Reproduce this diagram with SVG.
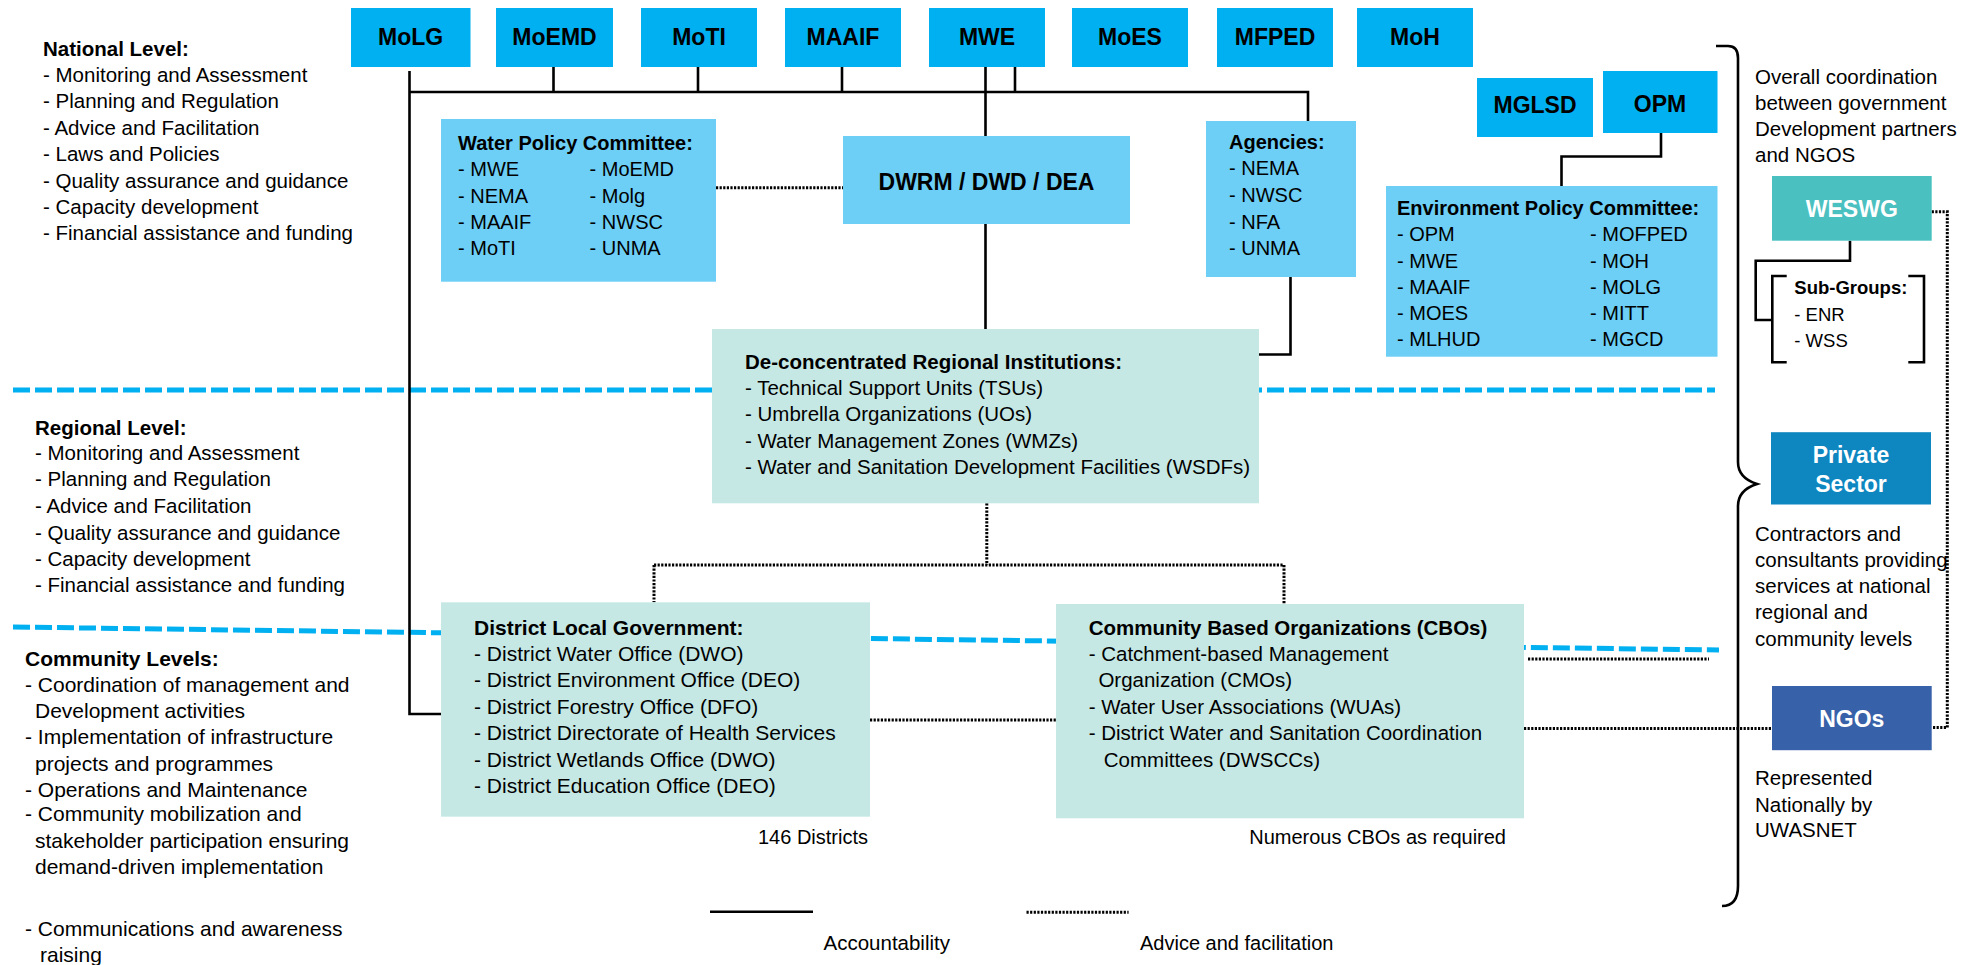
<svg xmlns="http://www.w3.org/2000/svg" width="1969" height="965" viewBox="0 0 1969 965">
<style>
text{font-family:"Liberation Sans",Arial,sans-serif;font-size:20.5px;fill:#000}
.b{font-weight:bold}
.m{font-size:23px;font-weight:bold;text-anchor:middle}
.w{fill:#fff}
.r{text-anchor:end}
.min{fill:#00B0F0}
.lb{fill:#6DCFF6}
.pt{fill:#C6E8E5}
.sol{stroke:#000;stroke-width:2.6;fill:none}
.dot{stroke:#000;stroke-width:3;stroke-dasharray:2.2 1.4;fill:none}
.dash{stroke:#00B0F0;stroke-width:5;stroke-dasharray:17 5;fill:none}
</style>
<rect width="1969" height="965" fill="#fff"/>

<g id="level-lines">
<line class="dash" x1="13" y1="390" x2="1715" y2="390"/>
<line class="dash" x1="13" y1="627" x2="1719" y2="650"/>
</g>

<g id="connectors">
<path class="sol" d="M409.5,71 V714 H441"/>
<path class="sol" d="M409.5,92 H1308 V121"/>
<path class="sol" d="M553.5,67 V92 M698,67 V92 M842,67 V92 M1015,67 V92"/>
<path class="sol" d="M985.5,67 V136 M985.5,224 V329"/>
<path class="sol" d="M1290.5,277 V354.5 H1259"/>
<path class="sol" d="M1661,133 V156.5 H1561.5 V186"/>
<path class="sol" d="M1850,240.7 V260.7 H1755.7 V320 H1772.3"/>
<path class="sol" d="M1786.7,276 H1772.3 V362.3 H1786.7 M1908.3,276 H1924 V362.3 H1908.3"/>
<path class="sol" stroke-width="3" d="M1716,46 H1728 Q1738,46 1738,58 V462 Q1738,478 1757,484 Q1738,490 1738,506 V886 Q1738,906 1722,906"/>
<path class="dot" d="M716,187.7 H843"/>
<path class="dot" d="M986.8,503.3 V565 M654,565 H1284 M654,565 V602.3 M1284,565 V604"/>
<path class="dot" d="M870,720 H1056"/>
<path class="dot" d="M1524,728.5 H1772"/>
<path class="dot" d="M1528,659 H1709"/>
<path class="dot" d="M1931.7,211.7 H1947.3 V727.6 H1931.7"/>
</g>

<g id="national-text">
<text class="b" x="43" y="56.3">National Level:</text>
<text x="43" y="82">- Monitoring and Assessment</text>
<text x="43" y="108">- Planning and Regulation</text>
<text x="43" y="134.7">- Advice and Facilitation</text>
<text x="43" y="161">- Laws and Policies</text>
<text x="43" y="188">- Quality assurance and guidance</text>
<text x="43" y="214.3">- Capacity development</text>
<text x="43" y="240.3">- Financial assistance and funding</text>
</g>

<g id="regional-text">
<text class="b" x="35" y="434.5">Regional Level:</text>
<text x="35" y="459.5">- Monitoring and Assessment</text>
<text x="35" y="486">- Planning and Regulation</text>
<text x="35" y="512.5">- Advice and Facilitation</text>
<text x="35" y="539.5">- Quality assurance and guidance</text>
<text x="35" y="566">- Capacity development</text>
<text x="35" y="592">- Financial assistance and funding</text>
</g>

<g id="community-text">
<text class="b" x="25" y="665.8" style="font-size:21px">Community Levels:</text>
<text x="25" y="691.5" style="font-size:21px">- Coordination of management and</text>
<text x="35" y="717.5" style="font-size:21px">Development activities</text>
<text x="25" y="744" style="font-size:21px">- Implementation of infrastructure</text>
<text x="35" y="771" style="font-size:21px">projects and programmes</text>
<text x="25" y="796.5" style="font-size:21px">- Operations and Maintenance</text>
<text x="25" y="821" style="font-size:21px">- Community mobilization and</text>
<text x="35" y="847.5" style="font-size:21px">stakeholder participation ensuring</text>
<text x="35" y="874" style="font-size:21px">demand-driven implementation</text>
<text x="25" y="936" style="font-size:21px">- Communications and awareness</text>
<text x="40" y="961.5" style="font-size:21px">raising</text>
</g>

<g id="MoLG"><rect class="min" x="351" y="8" width="119.5" height="59"/><text class="m" x="410.7" y="45">MoLG</text></g>
<g id="MoEMD"><rect class="min" x="496" y="8" width="117" height="59"/><text class="m" x="554.5" y="45">MoEMD</text></g>
<g id="MoTI"><rect class="min" x="641" y="8" width="116" height="59"/><text class="m" x="699" y="45">MoTI</text></g>
<g id="MAAIF"><rect class="min" x="785" y="8" width="116" height="59"/><text class="m" x="843" y="45">MAAIF</text></g>
<g id="MWE"><rect class="min" x="929" y="8" width="116" height="59"/><text class="m" x="987" y="45">MWE</text></g>
<g id="MoES"><rect class="min" x="1072" y="8" width="116" height="59"/><text class="m" x="1130" y="45">MoES</text></g>
<g id="MFPED"><rect class="min" x="1217" y="8" width="116" height="59"/><text class="m" x="1275" y="45">MFPED</text></g>
<g id="MoH"><rect class="min" x="1357" y="8" width="116" height="59"/><text class="m" x="1415" y="45">MoH</text></g>
<g id="MGLSD"><rect class="min" x="1477" y="78" width="116" height="59"/><text class="m" x="1535" y="113">MGLSD</text></g>
<g id="OPM"><rect class="min" x="1603" y="71" width="114.5" height="62"/><text class="m" x="1660" y="111.5">OPM</text></g>

<g id="water-policy-committee">
<rect class="lb" x="441" y="119" width="275" height="162.7"/>
<text class="b" x="458" y="149.7" style="font-size:20px">Water Policy Committee:</text>
<text x="458" y="176.3" style="font-size:20px">- MWE</text>
<text x="458" y="202.7" style="font-size:20px">- NEMA</text>
<text x="458" y="229.3" style="font-size:20px">- MAAIF</text>
<text x="458" y="255.3" style="font-size:20px">- MoTI</text>
<text x="589.6" y="176.3" style="font-size:20px">- MoEMD</text>
<text x="589.6" y="202.7" style="font-size:20px">- Molg</text>
<text x="589.6" y="229.3" style="font-size:20px">- NWSC</text>
<text x="589.6" y="255.3" style="font-size:20px">- UNMA</text>
</g>

<g id="DWRM">
<rect class="lb" x="843" y="136" width="287" height="88"/>
<text class="m" x="986.5" y="189.6">DWRM / DWD / DEA</text>
</g>

<g id="agencies">
<rect class="lb" x="1206" y="121" width="150" height="156"/>
<text class="b" x="1229" y="148.7" style="font-size:20px">Agencies:</text>
<text x="1229" y="175.3" style="font-size:20px">- NEMA</text>
<text x="1229" y="202" style="font-size:20px">- NWSC</text>
<text x="1229" y="228.7" style="font-size:20px">- NFA</text>
<text x="1229" y="254.7" style="font-size:20px">- UNMA</text>
</g>

<g id="environment-policy-committee">
<rect class="lb" x="1386" y="186" width="331.5" height="170.7"/>
<text class="b" x="1397" y="215.3" style="font-size:20px">Environment Policy Committee:</text>
<text x="1397" y="241" style="font-size:20px">- OPM</text>
<text x="1397" y="267.7" style="font-size:20px">- MWE</text>
<text x="1397" y="293.7" style="font-size:20px">- MAAIF</text>
<text x="1397" y="319.7" style="font-size:20px">- MOES</text>
<text x="1397" y="346.3" style="font-size:20px">- MLHUD</text>
<text x="1590" y="241" style="font-size:20px">- MOFPED</text>
<text x="1590" y="267.7" style="font-size:20px">- MOH</text>
<text x="1590" y="293.7" style="font-size:20px">- MOLG</text>
<text x="1590" y="319.7" style="font-size:20px">- MITT</text>
<text x="1590" y="346.3" style="font-size:20px">- MGCD</text>
</g>

<g id="regional-institutions">
<rect class="pt" x="712" y="329" width="547" height="174.3"/>
<text class="b" x="745" y="368.7">De-concentrated Regional Institutions:</text>
<text x="745" y="394.7">- Technical Support Units (TSUs)</text>
<text x="745" y="421.3">- Umbrella Organizations (UOs)</text>
<text x="745" y="447.7">- Water Management Zones (WMZs)</text>
<text x="745" y="473.7">- Water and Sanitation Development Facilities (WSDFs)</text>
</g>

<g id="district-local-government">
<rect class="pt" x="441" y="602.3" width="429" height="214.4"/>
<text class="b" x="474" y="634.5" style="font-size:21px">District Local Government:</text>
<text x="474" y="660.5" style="font-size:21px">- District Water Office (DWO)</text>
<text x="474" y="687" style="font-size:21px">- District Environment Office (DEO)</text>
<text x="474" y="713.7" style="font-size:21px">- District Forestry Office (DFO)</text>
<text x="474" y="740.3" style="font-size:21px">- District Directorate of Health Services</text>
<text x="474" y="767" style="font-size:21px">- District Wetlands Office (DWO)</text>
<text x="474" y="793" style="font-size:21px">- District Education Office (DEO)</text>
<text class="r" x="868" y="843.7" style="font-size:20px">146 Districts</text>
</g>

<g id="cbos">
<rect class="pt" x="1056" y="604" width="468" height="214.3"/>
<text class="b" x="1088.7" y="635.3">Community Based Organizations (CBOs)</text>
<text x="1088.7" y="661">- Catchment-based Management</text>
<text x="1098.4" y="687">Organization (CMOs)</text>
<text x="1088.7" y="713.7">- Water User Associations (WUAs)</text>
<text x="1088.7" y="740.3">- District Water and Sanitation Coordination</text>
<text x="1103.8" y="767">Committees (DWSCCs)</text>
<text class="r" x="1506" y="843.7" style="font-size:20px">Numerous CBOs as required</text>
</g>

<g id="coordination-text">
<text x="1755" y="83.7">Overall coordination</text>
<text x="1755" y="109.7">between government</text>
<text x="1755" y="136.3">Development partners</text>
<text x="1755" y="162">and NGOS</text>
</g>

<g id="WESWG">
<rect x="1772" y="176" width="159.7" height="64.7" fill="#4BC0C0"/>
<text class="m w" x="1851.8" y="217">WESWG</text>
</g>

<g id="sub-groups">
<text class="b" x="1794.3" y="294" style="font-size:18.5px">Sub-Groups:</text>
<text x="1794.3" y="321" style="font-size:18.5px">- ENR</text>
<text x="1794.3" y="347" style="font-size:18.5px">- WSS</text>
</g>

<g id="private-sector">
<rect x="1771" y="432.2" width="160" height="72.3" fill="#0E86BF"/>
<text class="m w" x="1851" y="463">Private</text>
<text class="m w" x="1851" y="492">Sector</text>
<text x="1755" y="540.7">Contractors and</text>
<text x="1755" y="567">consultants providing</text>
<text x="1755" y="593">services at national</text>
<text x="1755" y="619.2">regional and</text>
<text x="1755" y="646">community levels</text>
</g>

<g id="NGOs">
<rect x="1772" y="686" width="159.7" height="64.2" fill="#3761A8"/>
<text class="m w" x="1851.8" y="727">NGOs</text>
<text x="1755" y="785">Represented</text>
<text x="1755" y="811.8">Nationally by</text>
<text x="1755" y="837.2">UWASNET</text>
</g>

<g id="legend">
<line class="sol" x1="710" y1="911.7" x2="813" y2="911.7" stroke-width="3"/>
<line class="dot" x1="1026.5" y1="912.3" x2="1128.6" y2="912.3"/>
<text x="823.5" y="950">Accountability</text>
<text x="1140" y="950" style="font-size:20px">Advice and facilitation</text>
</g>
</svg>
